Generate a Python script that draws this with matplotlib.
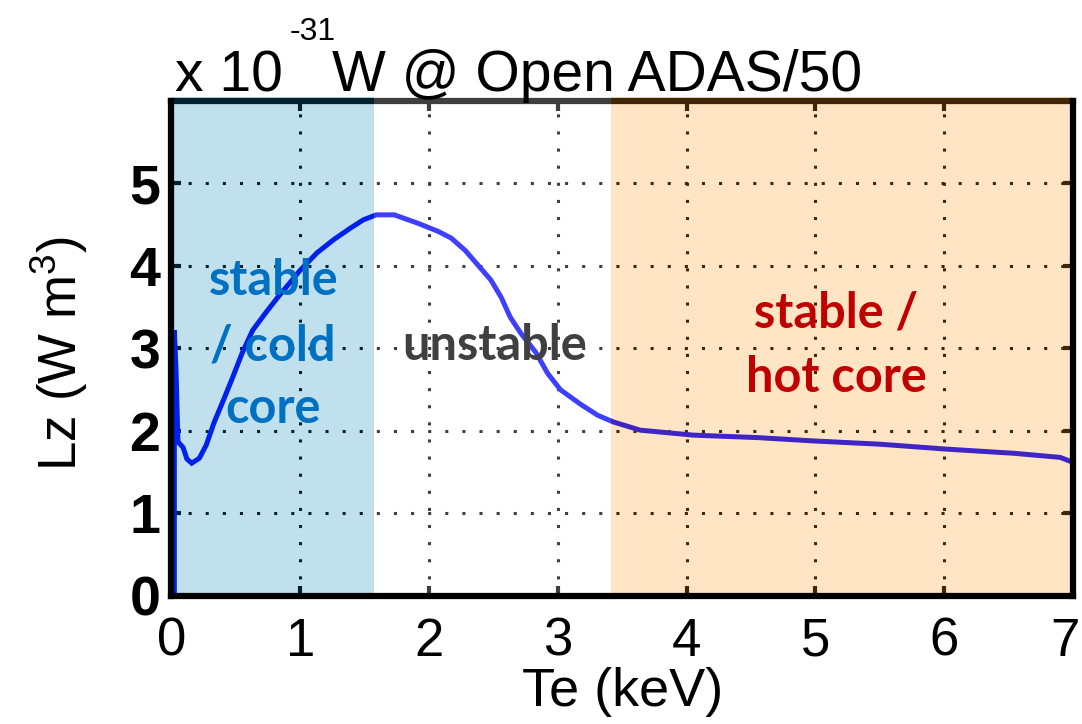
import matplotlib
matplotlib.use("Agg")
import matplotlib.pyplot as plt
from matplotlib.transforms import ScaledTranslation

# Lz for the impurity (units of 1e-31 W m^3)
te = [0.022, 0.022, 0.035, 0.05, 0.09, 0.12, 0.157, 0.216, 0.27, 0.33, 0.41,
      0.475, 0.55, 0.63, 0.73, 0.82, 1.0, 1.13, 1.26, 1.39, 1.49, 1.59, 1.73,
      1.91, 2.07, 2.17, 2.28, 2.38, 2.48, 2.56, 2.63, 2.71, 2.83, 2.92, 3.02,
      3.18, 3.31, 3.43, 3.64, 4.05, 4.55, 4.98, 5.50, 6.02, 6.54, 6.90, 7.0]
lz = [0.0, 3.22, 2.74, 1.87, 1.80, 1.66, 1.61, 1.67, 1.83, 2.10, 2.40,
      2.65, 2.95, 3.22, 3.43, 3.61, 3.95, 4.16, 4.32, 4.46, 4.56, 4.62, 4.62,
      4.52, 4.42, 4.34, 4.19, 4.01, 3.83, 3.62, 3.38, 3.19, 2.95, 2.70, 2.50,
      2.32, 2.19, 2.11, 2.01, 1.95, 1.92, 1.88, 1.84, 1.78, 1.73, 1.68, 1.62]

# regime boundaries (keV)
cold_edge = 1.57
hot_edge = 3.41
te_max = 7.0

xticks = [0, 1, 2, 3, 4, 5, 6, 7]
yticks = [0, 1, 2, 3, 4, 5]

cold_lines = ["stable", "/ cold", "core"]
hot_lines = ["stable /", "hot core"]
mid_label = "unstable"

plt.rcParams['mathtext.fontset'] = 'custom'
plt.rcParams['mathtext.rm'] = 'Liberation Sans'
plt.rcParams['mathtext.it'] = 'Liberation Sans'

fig = plt.figure(figsize=(10.82, 7.24), dpi=100)
ax = fig.add_axes([0.1585, 0.1768, 0.8332, 0.6837])

ax.plot(te, lz, color='#0000ff', lw=3.6, zorder=2, solid_joinstyle='miter')

ax.set_xlim(0, te_max)
ax.set_ylim(0, 6)
ax.set_xticks(xticks)
ax.set_yticks(yticks)
ax.set_xticklabels([str(v) for v in xticks], family='Liberation Sans', fontsize=38)
ax.set_yticklabels([str(v) for v in yticks], family='Liberation Sans', fontsize=40,
                   fontweight='bold')
ax.tick_params(direction='in', top=True, right=True, length=7, width=3,
               color='black')
ax.tick_params(axis='x', pad=15)
ax.tick_params(axis='y', pad=8)
ax.grid(True, color='black', linestyle=(0, (1, 4.6)), linewidth=2.2)

# the last x label sits at the figure edge, nudge it in a little
last = ax.get_xticklabels()[-1]
last.set_transform(last.get_transform() + ScaledTranslation(-6/72, 0, fig.dpi_scale_trans))

for s in ax.spines.values():
    s.set_linewidth(4.5)
for name in ['left', 'bottom', 'right']:
    ax.spines[name].set_zorder(6)

# translucent regime bands drawn over everything in the box
ax.axvspan(0, cold_edge, ymin=0, ymax=1.008, color=(0, 132/255, 180/255),
           alpha=0.25, lw=0, zorder=3, clip_on=False)
ax.axvspan(cold_edge, hot_edge, ymin=0, ymax=1.008, color='white',
           alpha=0.25, lw=0, zorder=3, clip_on=False)
ax.axvspan(hot_edge, te_max, ymin=0, ymax=1.008, color=(1, 152/255, 20/255),
           alpha=0.25, lw=0, zorder=3, clip_on=False)

# regime labels
lab = dict(family=['Lato', 'DejaVu Sans'], fontsize=35, fontweight='bold',
           ha='center', va='baseline', zorder=8)
for txt, y in zip(cold_lines, [3.65, 2.86, 2.10]):
    ax.text(0.79, y, txt, color='#0070c0', **lab)
ax.text(2.51, 2.86, mid_label, color='#404040', **lab)
for txt, y in zip(hot_lines, [3.25, 2.47]):
    ax.text(5.16, y, txt, color='#c00000', **lab)

ax.set_xlabel('Te (keV)', family='Liberation Sans', fontsize=39, labelpad=0)
ax.set_ylabel('Lz (W m$^3$)', family='Liberation Sans', fontsize=38)
ax.yaxis.set_label_coords(-0.09, 0.49)

# MATLAB-style exponent title
fig.text(175/1082, 1 - 91/724, 'x 10', family='Liberation Sans', fontsize=41,
         ha='left', va='baseline')
fig.text(290/1082, 1 - 40/724, '-31', family='Liberation Sans', fontsize=23,
         ha='left', va='baseline')
fig.text(332/1082, 1 - 91/724, 'W @ Open ADAS/50', family='Liberation Sans',
         fontsize=41, ha='left', va='baseline')

fig.savefig('out.png', dpi=100)
